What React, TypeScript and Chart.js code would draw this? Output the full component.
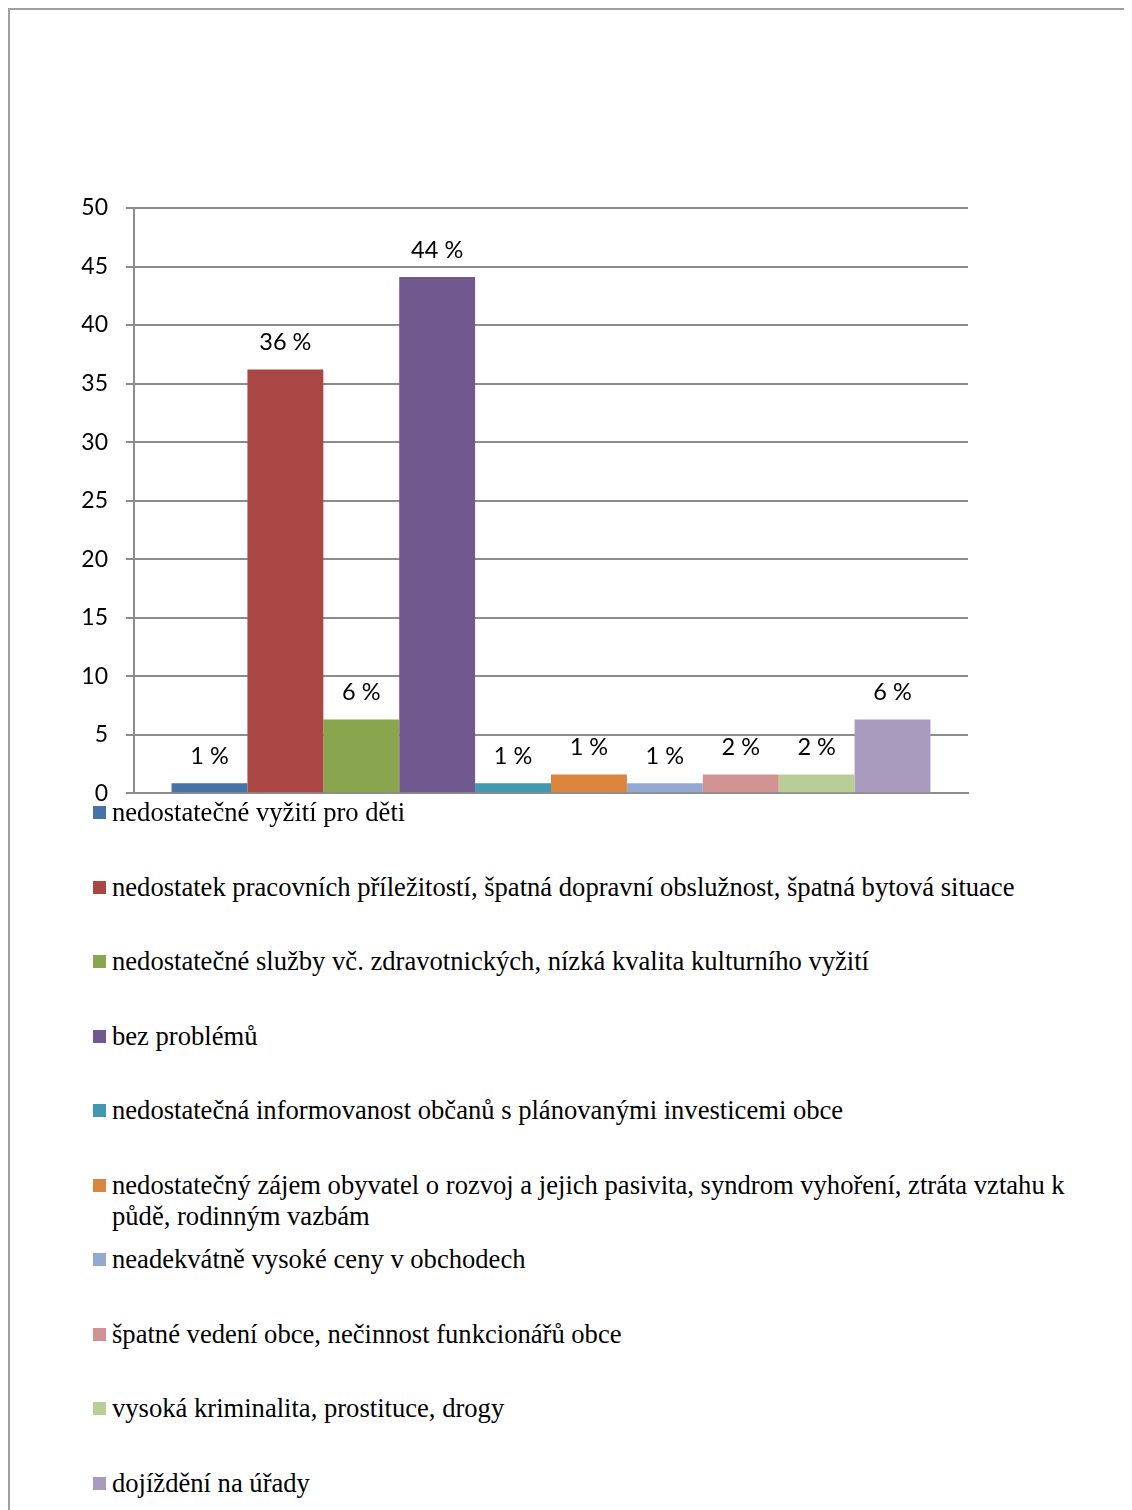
import React, { useEffect, useRef } from "react";
import { Chart, registerables } from "chart.js";

Chart.register(...registerables);

const categories: string[] = [""];
const seriesNames: string[] = [
  "nedostatečné vyžití pro děti",
  "nedostatek pracovních příležitostí, špatná dopravní obslužnost, špatná bytová situace",
  "nedostatečné služby vč. zdravotnických, nízká kvalita kulturního vyžití",
  "bez problémů",
  "nedostatečná informovanost občanů s plánovanými investicemi obce",
  "nedostatečný zájem obyvatel o rozvoj a jejich pasivita, syndrom vyhoření, ztráta vztahu k půdě, rodinným vazbám",
  "neadekvátně vysoké ceny v obchodech",
  "špatné vedení obce, nečinnost funkcionářů obce",
  "vysoká kriminalita, prostituce, drogy",
  "dojíždění na úřady",
];
const seriesValues: number[] = [0.85, 36.2, 6.3, 44.1, 0.85, 1.6, 0.85, 1.6, 1.6, 6.3];
const valueLabels: string[] = ["1 %", "36 %", "6 %", "44 %", "1 %", "1 %", "1 %", "2 %", "2 %", "6 %"];
const seriesColors: string[] = [
  "#4572A7",
  "#AA4643",
  "#89A54E",
  "#71588F",
  "#4198AF",
  "#DB843D",
  "#93A9CF",
  "#D19392",
  "#B9CD96",
  "#A99BBD",
];
const yMin = 0;
const yMax = 50;
const yStep = 5;

const labelPlugin = {
  id: "valueLabels",
  afterDatasetsDraw(chart: any) {
    const ctx = chart.ctx;
    ctx.save();
    ctx.font = "23.5px Lato";
    ctx.fillStyle = "#000";
    ctx.textAlign = "center";
    ctx.textBaseline = "middle";
    chart.data.datasets.forEach((ds: any, i: number) => {
      const meta = chart.getDatasetMeta(i);
      const bar = meta.data[0];
      if (!bar) return;
      ctx.fillText(valueLabels[i], bar.x, bar.y - 27);
    });
    ctx.restore();
  },
};

export default function App() {
  const canvasRef = useRef<HTMLCanvasElement | null>(null);

  useEffect(() => {
    if (!canvasRef.current) return;
    const chart = new Chart(canvasRef.current, {
      type: "bar",
      data: {
        labels: categories,
        datasets: seriesNames.map((name, i) => ({
          label: name,
          data: [seriesValues[i]],
          backgroundColor: seriesColors[i],
          borderWidth: 0,
          categoryPercentage: 0.91,
          barPercentage: 1,
        })),
      },
      options: {
        responsive: false,
        animation: false,
        devicePixelRatio: 1,
        layout: { padding: { top: 200, right: 164, bottom: 15, left: 0 } },
        plugins: {
          legend: { display: false },
          tooltip: { enabled: false },
        },
        scales: {
          x: {
            grid: { display: false },
            ticks: { display: false },
            border: { display: true, color: "#8c8c8c", width: 2 },
            afterFit: (scale: any) => {
              scale.height = 0;
            },
          },
          y: {
            min: yMin,
            max: yMax,
            ticks: {
              stepSize: yStep,
              color: "#000",
              padding: 18,
              font: { family: "Lato", size: 23 },
            },
            grid: { color: "#8c8c8c", lineWidth: 2, drawTicks: true, tickLength: 8 },
            border: { display: true, color: "#8c8c8c", width: 2 },
            afterFit: (scale: any) => {
              scale.width = 126;
            },
          },
        },
      },
      plugins: [labelPlugin],
    });
    return () => chart.destroy();
  }, []);

  const itemTop = 812 - 8;
  const itemStep = 74.55;

  return (
    <div style={{ position: "relative", width: 1124, height: 1502, overflow: "hidden" }}>
      <div
        style={{
          position: "absolute",
          left: 0,
          top: 0,
          width: 1200,
          height: 1600,
          borderTop: "2px solid #a0a0a0",
          borderLeft: "2px solid #a0a0a0",
        }}
      />
      <canvas
        ref={canvasRef}
        width={1124}
        height={817}
        style={{ position: "absolute", left: 0, top: 0, width: 1124, height: 817 }}
      />
      {seriesNames.map((name, i) => (
        <div
          key={i}
          style={{
            position: "absolute",
            left: 85,
            top: itemTop + i * itemStep - 15,
            display: "flex",
            alignItems: "flex-start",
          }}
        >
          <div
            style={{
              width: 13,
              height: 13,
              background: seriesColors[i],
              marginTop: 9,
              marginRight: 6,
              flex: "none",
            }}
          />
          <div
            style={{
              fontFamily: "'Liberation Serif', 'Times New Roman', serif",
              fontSize: 26.6,
              lineHeight: "31px",
              width: 962,
              color: "#000",
            }}
          >
            {name}
          </div>
        </div>
      ))}
    </div>
  );
}
